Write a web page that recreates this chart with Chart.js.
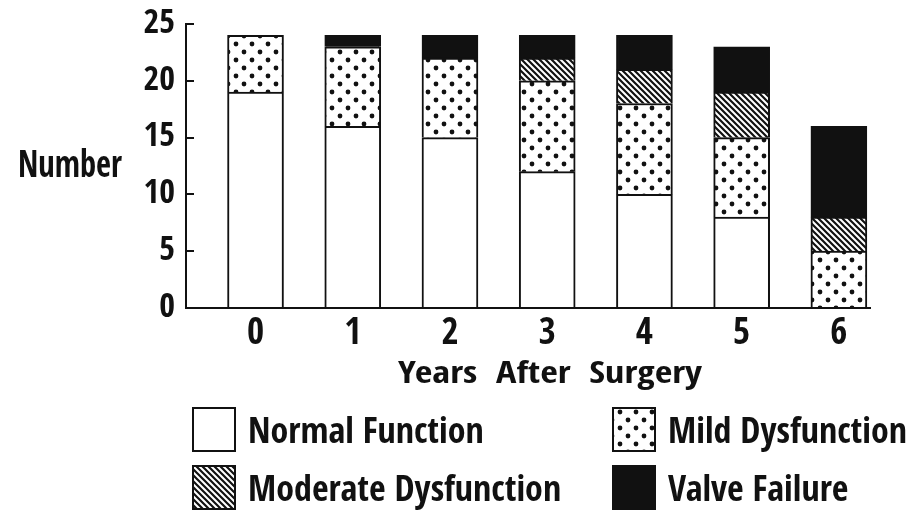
<!DOCTYPE html>
<html>
<head>
<meta charset="utf-8">
<title>Valve function after surgery</title>
<script src="https://cdn.jsdelivr.net/npm/chart.js@4.4.1/dist/chart.umd.min.js"></script>
<style>
  html, body { margin: 0; padding: 0; background: #fff; }
  #wrap { width: 920px; height: 519px; position: relative; }
</style>
</head>
<body>
<div id="wrap"><canvas id="valveChart"></canvas></div>
<script>
// Data
const years = [0, 1, 2, 3, 4, 5, 6];
const normalFunction = [19, 16, 15, 12, 10, 8, 0];
const mildDysfunction = [5, 7, 7, 8, 8, 7, 5];
const moderateDysfunction = [0, 0, 0, 2, 3, 4, 3];
const valveFailure = [0, 1, 2, 2, 3, 4, 8];
const yTicks = [0, 5, 10, 15, 20, 25];

const FONT = "'Open Sans Condensed', 'Roboto Condensed', 'DejaVu Sans Condensed', sans-serif";
const INK = '#111';

// Fill patterns like the printed figure
function dotPattern() {
    const c = document.createElement('canvas');
    c.width = 16; c.height = 16;
    const g = c.getContext('2d');
    g.fillStyle = '#fff';
    g.fillRect(0, 0, 16, 16);
    g.fillStyle = INK;
    [[4, 4], [12, 12]].forEach(p => {
        g.beginPath();
        g.arc(p[0], p[1], 2.4, 0, Math.PI * 2);
        g.fill();
    });
    return g.createPattern(c, 'repeat');
}

function hatchPattern() {
    const c = document.createElement('canvas');
    c.width = 6; c.height = 6;
    const g = c.getContext('2d');
    g.fillStyle = '#fff';
    g.fillRect(0, 0, 6, 6);
    g.strokeStyle = INK;
    g.lineWidth = 2.2;
    g.beginPath();
    g.moveTo(-1, -1); g.lineTo(7, 7);
    g.moveTo(-4, 2); g.lineTo(2, 8);
    g.moveTo(4, -2); g.lineTo(10, 4);
    g.stroke();
    return g.createPattern(c, 'repeat');
}

function toPoints(values) {
    return values.map((v, i) => ({ x: years[i], y: v }));
}

const fills = ['#fff', dotPattern(), hatchPattern(), INK];

// left-aligned text squeezed/stretched sideways to a given width
function drawFitted(ctx, text, x, baseline, size, width) {
    ctx.font = 'bold ' + size + 'px ' + FONT;
    const w = ctx.measureText(text).width;
    ctx.save();
    ctx.translate(x, baseline);
    ctx.scale(width / w, 1);
    ctx.fillText(text, 0, 0);
    ctx.restore();
}

// Texts that sit outside the axes, plus the 2x2 legend
const extraText = {
    id: 'extraText',
    afterDraw(chart) {
        const ctx = chart.ctx;
        ctx.save();
        ctx.fillStyle = INK;
        ctx.textAlign = 'left';
        ctx.textBaseline = 'alphabetic';

        drawFitted(ctx, 'Number', 18, 177, 37, 104);
        drawFitted(ctx, 'Years  After  Surgery', 398, 383, 31, 304);

        const cols = [192, 612];
        const rows = [407, 465];
        ctx.font = 'bold 36px ' + FONT;
        chart.data.datasets.forEach((ds, i) => {
            const x = cols[i % 2];
            const y = rows[Math.floor(i / 2)];
            ctx.fillStyle = ds.backgroundColor;
            ctx.fillRect(x, y, 44, 45);
            ctx.strokeStyle = INK;
            ctx.lineWidth = 2;
            ctx.strokeRect(x + 1, y + 1, 42, 43);
            ctx.fillStyle = INK;
            ctx.fillText(ds.label, x + 56, y + 36);
        });
        ctx.restore();
    }
};

const ctx = document.getElementById('valveChart');
new Chart(ctx, {
    type: 'bar',
    data: {
        datasets: [
            { label: 'Normal Function', data: toPoints(normalFunction) },
            { label: 'Mild Dysfunction', data: toPoints(mildDysfunction) },
            { label: 'Moderate Dysfunction', data: toPoints(moderateDysfunction) },
            { label: 'Valve Failure', data: toPoints(valveFailure) }
        ].map((ds, i) => Object.assign(ds, {
            backgroundColor: fills[i],
            borderColor: INK,
            borderWidth: 2,
            barThickness: 56
        }))
    },
    options: {
        responsive: true,
        maintainAspectRatio: false,
        animation: false,
        layout: {
            padding: { top: 24, right: 50, bottom: 124, left: 0 }
        },
        plugins: {
            legend: { display: false },
            tooltip: { enabled: false }
        },
        scales: {
            x: {
                type: 'linear',
                stacked: true,
                offset: false,
                min: -0.715,
                max: 6.32,
                afterBuildTicks: scale => {
                    scale.ticks = years.map(v => ({ value: v }));
                },
                afterFit: scale => {
                    scale.height = 87;
                    scale.paddingLeft = 0;
                    scale.paddingRight = 0;
                },
                grid: { display: false, drawTicks: false },
                border: { color: INK, width: 2 },
                ticks: {
                    color: INK,
                    padding: 4,
                    font: { family: FONT, size: 37, weight: 'bold' }
                }
            },
            y: {
                stacked: true,
                min: 0,
                max: 25,
                afterBuildTicks: scale => {
                    scale.ticks = yTicks.map(v => ({ value: v }));
                },
                afterFit: scale => {
                    scale.width = 186;
                    scale.paddingTop = 0;
                    scale.paddingBottom = 0;
                },
                grid: {
                    drawOnChartArea: false,
                    color: INK,
                    lineWidth: 2,
                    tickLength: -8
                },
                border: { color: INK, width: 2 },
                ticks: {
                    color: INK,
                    padding: 19,
                    font: { family: FONT, size: 34, weight: 'bold' }
                }
            }
        }
    },
    plugins: [extraText]
});
</script>
</body>
</html>
